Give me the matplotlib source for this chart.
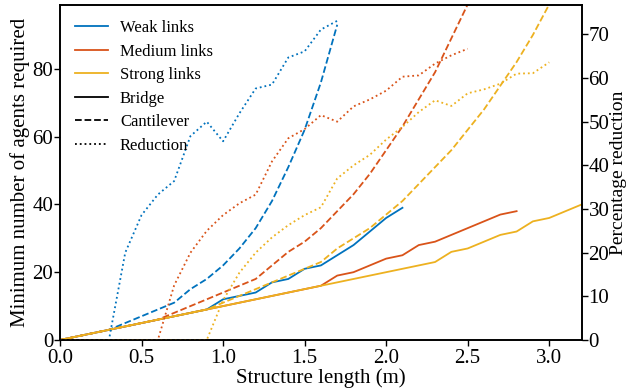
import matplotlib
matplotlib.use("Agg")
import matplotlib.pyplot as plt
from matplotlib.lines import Line2D

plt.rcParams['font.family'] = ['Liberation Serif', 'DejaVu Serif']

# structure length (m), step 0.1
length = [0.0, 0.1, 0.2, 0.3, 0.4, 0.5, 0.6, 0.7, 0.8, 0.9, 1.0,
          1.1, 1.2, 1.3, 1.4, 1.5, 1.6, 1.7, 1.8, 1.9, 2.0,
          2.1, 2.2, 2.3, 2.4, 2.5, 2.6, 2.7, 2.8, 2.9, 3.0, 3.1, 3.2]

# agents needed, bridge
bridge_weak = [0, 1, 2, 3, 4, 5, 6, 7, 8, 9, 12, 13, 14, 17, 18, 21, 22, 25, 28, 32, 36, 39]
bridge_medium = [0, 1, 2, 3, 4, 5, 6, 7, 8, 9, 10, 11, 12, 13, 14, 15, 16,
                 19, 20, 22, 24, 25, 28, 29, 31, 33, 35, 37, 38]
bridge_strong = [0, 1, 2, 3, 4, 5, 6, 7, 8, 9, 10, 11, 12, 13, 14, 15, 16, 17, 18, 19, 20, 21, 22, 23,
                 26, 27, 29, 31, 32, 35, 36, 38, 40]

# agents needed, cantilever
cant_weak = [0, 1, 2, 3, 5, 7, 9, 11, 15, 18, 22, 27, 33, 41, 51, 62, 76, 93]
cant_medium = [0, 1, 2, 3, 4, 5, 6, 8, 10, 12, 14, 16, 18, 22, 26, 29, 33, 38, 43, 49,
               56, 63, 71, 79, 89, 99]
cant_strong = [0, 1, 2, 3, 4, 5, 6, 7, 8, 9, 11, 13, 15, 17, 19, 21, 23, 27, 30, 33, 37,
               41, 46, 51, 56, 62, 68, 75, 82, 90, 99]

# percentage reduction (right axis)
red_weak = [0, 0, 0, 0, 20, 28.6, 33.3, 36.4, 46.7, 50, 45.5, 51.9, 57.6, 58.5, 64.7, 66.1, 71.1, 73.1]
red_medium = [0, 0, 0, 0, 0, 0, 0, 12.5, 20, 25, 28.6, 31.3, 33.3, 40.9, 46.2, 48.3, 51.5, 50,
              53.5, 55.1, 57.1, 60.3, 60.6, 63.3, 65.2, 66.7]
red_strong = [0, 0, 0, 0, 0, 0, 0, 0, 0, 0, 9.1, 15.4, 20, 23.5, 26.3, 28.6, 30.4, 37, 40, 42.4,
              45.9, 48.8, 52.2, 54.9, 53.6, 56.5, 57.4, 58.7, 61, 61.1, 63.6]

blue = '#0072BD'
orange = '#D95319'
yellow = '#EDB120'
lw = 1.3
fs = 15

fig, ax = plt.subplots(figsize=(6.29, 3.92), dpi=100)
fig.subplots_adjust(left=0.0954, right=0.925, bottom=0.1327, top=0.987)
ax2 = ax.twinx()

series = [
    (bridge_weak, cant_weak, red_weak, blue),
    (bridge_medium, cant_medium, red_medium, orange),
    (bridge_strong, cant_strong, red_strong, yellow),
]
for b, c, r, col in series:
    ax.plot(length[:len(b)], b, color=col, lw=lw, ls='-')
    ax.plot(length[:len(c)], c, color=col, lw=lw, ls='--')
    ax2.plot(length[:len(r)], r, color=col, lw=lw, ls=':')

ax.set_xlim(0, 3.2)
ax.set_ylim(0, 98.8)
ax2.set_ylim(0, 76.7)
ax.set_xticks([0.0, 0.5, 1.0, 1.5, 2.0, 2.5, 3.0])
ax.set_yticks([0, 20, 40, 60, 80])
ax2.set_yticks([0, 10, 20, 30, 40, 50, 60, 70])

ax.set_xlabel("Structure length (m)", fontsize=fs, labelpad=0)
ax.set_ylabel("Minimum number of agents required", fontsize=fs, labelpad=2)
ax2.set_ylabel("Percentage reduction", fontsize=14, labelpad=0.5)
for a in (ax, ax2):
    a.tick_params(labelsize=fs, width=1.0, length=4, pad=0.8)
    for s in a.spines.values():
        s.set_linewidth(1.2)
ax.tick_params(axis='x', pad=2.5)

handles = [
    Line2D([], [], color=blue, lw=lw),
    Line2D([], [], color=orange, lw=lw),
    Line2D([], [], color=yellow, lw=lw),
    Line2D([], [], color='black', lw=lw, ls='-'),
    Line2D([], [], color='black', lw=lw, ls='--'),
    Line2D([], [], color='black', lw=lw, ls=':'),
]
labels = ["Weak links", "Medium links", "Strong links", "Bridge", "Cantilever", "Reduction"]
ax2.legend(handles, labels, loc='upper left', frameon=False, fontsize=12,
           handlelength=2.0, handletextpad=0.7, labelspacing=0.45,
           borderaxespad=0.5, borderpad=0.4)

fig.savefig("out.png", dpi=100)
